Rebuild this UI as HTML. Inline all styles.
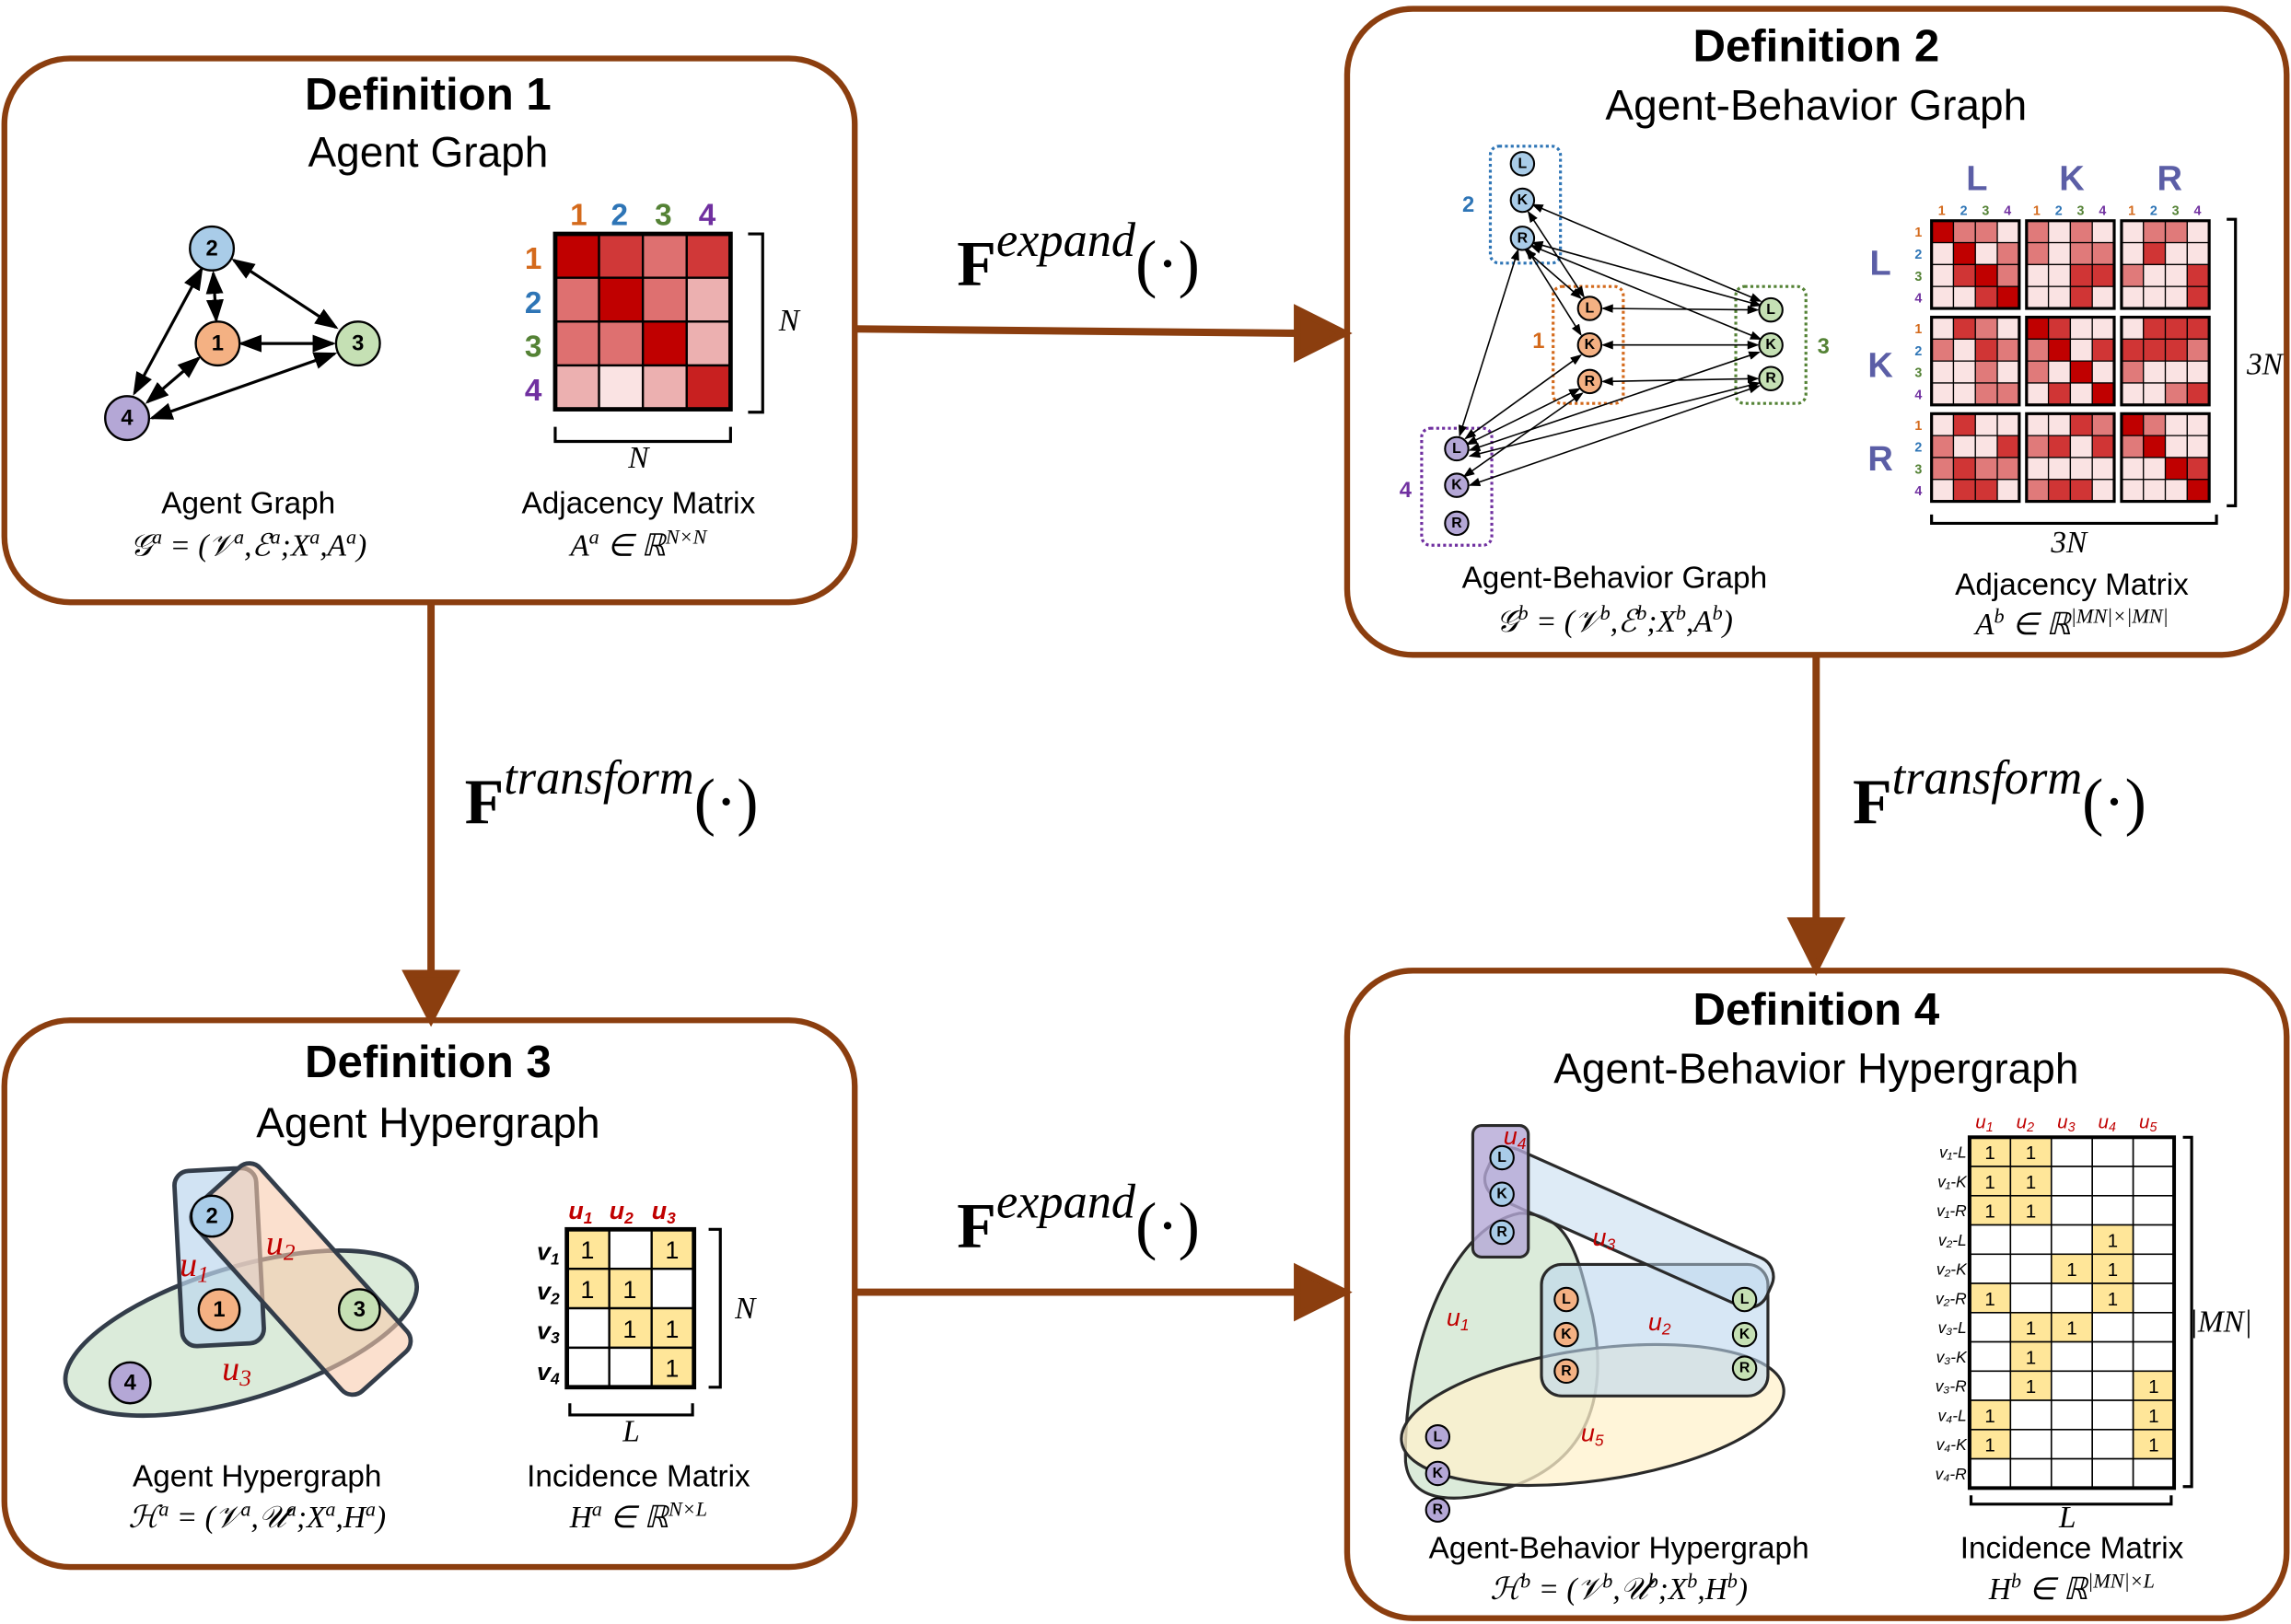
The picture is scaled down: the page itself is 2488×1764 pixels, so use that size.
<!DOCTYPE html>
<html><head><meta charset="utf-8"><style>
html,body{margin:0;padding:0;background:#fff}
svg{display:block}
text{font-family:"Liberation Sans","DejaVu Sans",sans-serif}
.t1{font-size:31px;font-weight:bold;text-anchor:middle}
.t2{font-size:29px;text-anchor:middle}
.cap{font-size:21px;text-anchor:middle}
.fm{font-family:"Liberation Serif",serif;font-style:italic;font-size:21px;text-anchor:middle}
.nd{font-size:15px;font-weight:bold;text-anchor:middle;dominant-baseline:central}
.sn{font-size:10px;font-weight:bold;text-anchor:middle;dominant-baseline:central}
.F{font-family:"Liberation Serif",serif;font-weight:bold;font-size:44px}
.Fs{font-family:"Liberation Serif",serif;font-style:italic;font-size:33px;font-weight:normal}
.red{fill:#c00000;font-family:"Liberation Serif",serif;font-style:italic}
</style></head><body>
<svg width="2488" height="1764" viewBox="0 0 1568 1111" preserveAspectRatio="none" xmlns="http://www.w3.org/2000/svg">
<defs>
<marker id="ab" markerWidth="10" markerHeight="10" refX="5" refY="5" orient="auto"><path d="M0,0 L10,5 L0,10 Z" fill="#8B3E0F"/></marker>
<marker id="sa" markerWidth="8" markerHeight="8" refX="7" refY="4" orient="auto-start-reverse"><path d="M0,1 L8,4 L0,7 Z" fill="#000"/></marker>
</defs>
<g fill="none" stroke="#8B3E0F" stroke-width="4">
<rect x="3" y="40" width="582" height="372" rx="45"/>
<rect x="922" y="6" width="643" height="442" rx="45"/>
<rect x="3" y="698" width="582" height="374" rx="45"/>
<rect x="922" y="664" width="643" height="443" rx="45"/>
</g>
<g stroke="#8B3E0F" stroke-width="5" fill="#8B3E0F">
<line x1="585" y1="225" x2="890" y2="228"/><path d="M888,212 L920,228 L888,244Z"/>
<line x1="585" y1="884" x2="890" y2="884"/><path d="M888,868 L920,884 L888,900Z"/>
<line x1="295" y1="412" x2="295" y2="668"/><path d="M279,666 L295,697 L311,666Z"/>
<line x1="1243" y1="450" x2="1243" y2="632"/><path d="M1227,630 L1243,662 L1259,630Z"/>
</g>
<text x="655" y="195" class="F">F<tspan class="Fs" dy="-20">expand</tspan><tspan dy="20" font-weight="normal">(·)</tspan></text>
<text x="655" y="853" class="F">F<tspan class="Fs" dy="-20">expand</tspan><tspan dy="20" font-weight="normal">(·)</tspan></text>
<text x="318" y="563" class="F">F<tspan class="Fs" dy="-20">transform</tspan><tspan dy="20" font-weight="normal">(·)</tspan></text>
<text x="1268" y="563" class="F">F<tspan class="Fs" dy="-20">transform</tspan><tspan dy="20" font-weight="normal">(·)</tspan></text>

<!-- Def1 -->
<text x="293" y="75" class="t1">Definition 1</text>
<text x="293" y="114" class="t2">Agent Graph</text>
<g stroke="#000" stroke-width="2" marker-start="url(#sa)" marker-end="url(#sa)">
<line x1="146" y1="187" x2="148" y2="219"/><line x1="160" y1="178" x2="230" y2="224"/>
<line x1="165" y1="235" x2="228" y2="235"/><line x1="138" y1="184" x2="92" y2="269"/>
<line x1="136" y1="245" x2="101" y2="275"/><line x1="229" y1="242" x2="104" y2="286"/>
</g>
<g stroke="#000" stroke-width="1.5">
<circle cx="145" cy="170" r="15" fill="#a9cce8"/><circle cx="149" cy="235" r="15" fill="#f4b183"/>
<circle cx="245" cy="235" r="15" fill="#c5e0b4"/><circle cx="87" cy="286" r="15" fill="#b4a7d6"/>
</g>
<text x="145" y="170" class="nd">2</text><text x="149" y="235" class="nd">1</text><text x="245" y="235" class="nd">3</text><text x="87" y="286" class="nd">4</text>
<g font-size="21" font-weight="bold" text-anchor="middle">
<text x="396" y="154" fill="#d46a1c">1</text><text x="424" y="154" fill="#2e75b6">2</text><text x="454" y="154" fill="#548235">3</text><text x="484" y="154" fill="#7030a0">4</text>
<text x="365" y="184" fill="#d46a1c">1</text><text x="365" y="214" fill="#2e75b6">2</text><text x="365" y="244" fill="#548235">3</text><text x="365" y="274" fill="#7030a0">4</text>
</g>
<g stroke="#000" stroke-width="1.5">
<rect x="380" y="160" width="30" height="30" fill="#c00000"/><rect x="410" y="160" width="30" height="30" fill="#d03838"/><rect x="440" y="160" width="30" height="30" fill="#de7070"/><rect x="470" y="160" width="30" height="30" fill="#d03838"/>
<rect x="380" y="190" width="30" height="30" fill="#de7070"/><rect x="410" y="190" width="30" height="30" fill="#c00000"/><rect x="440" y="190" width="30" height="30" fill="#de7070"/><rect x="470" y="190" width="30" height="30" fill="#ecb0b0"/>
<rect x="380" y="220" width="30" height="30" fill="#de7070"/><rect x="410" y="220" width="30" height="30" fill="#de7070"/><rect x="440" y="220" width="30" height="30" fill="#c00000"/><rect x="470" y="220" width="30" height="30" fill="#ecb0b0"/>
<rect x="380" y="250" width="30" height="30" fill="#ecb0b0"/><rect x="410" y="250" width="30" height="30" fill="#fae3e3"/><rect x="440" y="250" width="30" height="30" fill="#ecb0b0"/><rect x="470" y="250" width="30" height="30" fill="#c82020"/>
<rect x="380" y="160" width="120" height="120" fill="none" stroke-width="3"/>
</g>
<path d="M512,160 H522 V282 H512 M380,292 V302 H500 V292" fill="none" stroke="#000" stroke-width="2"/>
<text x="540" y="226" class="fm" font-size="16">N</text><text x="437" y="320" class="fm" font-size="16">N</text>
<text x="170" y="351" class="cap">Agent Graph</text>
<text x="170" y="380" class="fm">𝒢<tspan font-size="14" dy="-8">a</tspan><tspan dy="8"> = (𝒱</tspan><tspan font-size="14" dy="-8">a</tspan><tspan dy="8">,ℰ</tspan><tspan font-size="14" dy="-8">a</tspan><tspan dy="8">;X</tspan><tspan font-size="14" dy="-8">a</tspan><tspan dy="8">,A</tspan><tspan font-size="14" dy="-8">a</tspan><tspan dy="8">)</tspan></text>
<text x="437" y="351" class="cap">Adjacency Matrix</text>
<text x="437" y="380" class="fm">A<tspan font-size="14" dy="-8">a</tspan><tspan dy="8"> ∈ ℝ</tspan><tspan font-size="14" dy="-8">N×N</tspan></text>

<!-- Def2 -->
<text x="1243" y="42" class="t1">Definition 2</text>
<text x="1243" y="82" class="t2">Agent-Behavior Graph</text>
<g fill="none" stroke-width="2" stroke-dasharray="2,2">
<rect x="1020" y="100" width="48" height="80" rx="6" stroke="#2e75b6"/>
<rect x="1063" y="196" width="48" height="80" rx="6" stroke="#d46a1c"/>
<rect x="1188" y="196" width="48" height="80" rx="6" stroke="#548235"/>
<rect x="973" y="293" width="48" height="80" rx="6" stroke="#7030a0"/>
</g>
<g font-size="15" font-weight="bold" text-anchor="middle">
<text x="1005" y="145" fill="#2e75b6">2</text><text x="1053" y="238" fill="#d46a1c">1</text><text x="1248" y="242" fill="#548235">3</text><text x="962" y="340" fill="#7030a0">4</text>
</g>
<g stroke="#000" stroke-width="1" marker-start="url(#sa)" marker-end="url(#sa)">
<line x1="1049" y1="140" x2="1205" y2="206"/><line x1="1049" y1="166" x2="1205" y2="209"/>
<line x1="1048" y1="168" x2="1205" y2="232"/><line x1="1046" y1="145" x2="1084" y2="203"/>
<line x1="1045" y1="170" x2="1082" y2="229"/><line x1="1044" y1="171" x2="1082" y2="204"/>
<line x1="1097" y1="211" x2="1203" y2="212"/><line x1="1097" y1="236" x2="1203" y2="236"/><line x1="1097" y1="261" x2="1203" y2="259"/>
<line x1="1039" y1="171" x2="999" y2="298"/><line x1="1082" y1="243" x2="1003" y2="300"/>
<line x1="1081" y1="266" x2="1004" y2="304"/><line x1="1204" y1="241" x2="1006" y2="308"/>
<line x1="1204" y1="262" x2="1006" y2="312"/><line x1="1083" y1="269" x2="1002" y2="326"/>
<line x1="1204" y1="264" x2="1006" y2="332"/>
</g>
<g stroke="#000" stroke-width="1.3">
<circle cx="1042" cy="112" r="8" fill="#a9cce8"/><circle cx="1042" cy="137" r="8" fill="#a9cce8"/><circle cx="1042" cy="163" r="8" fill="#a9cce8"/>
<circle cx="1088" cy="211" r="8" fill="#f4b183"/><circle cx="1088" cy="236" r="8" fill="#f4b183"/><circle cx="1088" cy="261" r="8" fill="#f4b183"/>
<circle cx="1212" cy="212" r="8" fill="#c5e0b4"/><circle cx="1212" cy="236" r="8" fill="#c5e0b4"/><circle cx="1212" cy="259" r="8" fill="#c5e0b4"/>
<circle cx="997" cy="307" r="8" fill="#b4a7d6"/><circle cx="997" cy="332" r="8" fill="#b4a7d6"/><circle cx="997" cy="358" r="8" fill="#b4a7d6"/>
</g>
<g>
<text x="1042" y="112" class="sn">L</text><text x="1042" y="137" class="sn">K</text><text x="1042" y="163" class="sn">R</text>
<text x="1088" y="211" class="sn">L</text><text x="1088" y="236" class="sn">K</text><text x="1088" y="261" class="sn">R</text>
<text x="1212" y="212" class="sn">L</text><text x="1212" y="236" class="sn">K</text><text x="1212" y="259" class="sn">R</text>
<text x="997" y="307" class="sn">L</text><text x="997" y="332" class="sn">K</text><text x="997" y="358" class="sn">R</text>
</g>
<g font-size="24" font-weight="bold" fill="#5b5ea6" text-anchor="middle">
<text x="1353" y="130">L</text><text x="1418" y="130">K</text><text x="1485" y="130">R</text>
<text x="1287" y="188">L</text><text x="1287" y="258">K</text><text x="1287" y="322">R</text>
</g>
<g id="m2"></g>
<path d="M1524,150 H1530 V346 H1524 M1322,352 V358 H1517 V352" fill="none" stroke="#000" stroke-width="2"/>
<text x="1550" y="256" class="fm" font-size="12">3N</text><text x="1416" y="378" class="fm" font-size="12">3N</text>
<text x="1105" y="402" class="cap">Agent-Behavior Graph</text>
<text x="1105" y="432" class="fm">𝒢<tspan font-size="14" dy="-8">b</tspan><tspan dy="8"> = (𝒱</tspan><tspan font-size="14" dy="-8">b</tspan><tspan dy="8">,ℰ</tspan><tspan font-size="14" dy="-8">b</tspan><tspan dy="8">;X</tspan><tspan font-size="14" dy="-8">b</tspan><tspan dy="8">,A</tspan><tspan font-size="14" dy="-8">b</tspan><tspan dy="8">)</tspan></text>
<text x="1418" y="407" class="cap">Adjacency Matrix</text>
<text x="1418" y="434" class="fm">A<tspan font-size="14" dy="-8">b</tspan><tspan dy="8"> ∈ ℝ</tspan><tspan font-size="14" dy="-8">|MN|×|MN|</tspan></text>

<!-- Def3 -->
<text x="293" y="737" class="t1">Definition 3</text>
<text x="293" y="778" class="t2">Agent Hypergraph</text>
<g stroke="#333d4a" stroke-width="3">
<ellipse cx="165" cy="912" rx="125" ry="45" transform="rotate(-17 165 912)" fill="#d5e8d4" fill-opacity="0.85"/>
<rect x="122" y="800" width="56" height="120" rx="10" transform="rotate(-3 150 860)" fill="#bdd7ee" fill-opacity="0.7"/>
<rect x="176" y="790" width="60" height="170" rx="10" transform="rotate(-42 206 875)" fill="#f8cbad" fill-opacity="0.6"/>
</g>
<g stroke="#000" stroke-width="1.5">
<circle cx="145" cy="832" r="14" fill="#a9cce8"/><circle cx="150" cy="896" r="14" fill="#f4b183"/>
<circle cx="246" cy="896" r="14" fill="#c5e0b4"/><circle cx="89" cy="946" r="14" fill="#b4a7d6"/>
</g>
<text x="145" y="832" class="nd">2</text><text x="150" y="896" class="nd">1</text><text x="246" y="896" class="nd">3</text><text x="89" y="946" class="nd">4</text>
<text x="123" y="873" class="red" font-size="24">u<tspan font-size="16" dy="4">1</tspan></text>
<text x="182" y="858" class="red" font-size="24">u<tspan font-size="16" dy="4">2</tspan></text>
<text x="152" y="944" class="red" font-size="24">u<tspan font-size="16" dy="4">3</tspan></text>
<g font-size="17" font-weight="bold" class="red" font-style="italic">
<text x="389" y="834">u<tspan font-size="11" dy="3">1</tspan></text><text x="417" y="834">u<tspan font-size="11" dy="3">2</tspan></text><text x="446" y="834">u<tspan font-size="11" dy="3">3</tspan></text>
</g>
<g font-family="Liberation Serif,serif" font-style="italic" font-weight="bold" font-size="17" text-anchor="end">
<text x="383" y="862">v<tspan font-size="11" dy="3">1</tspan></text><text x="383" y="889">v<tspan font-size="11" dy="3">2</tspan></text><text x="383" y="916">v<tspan font-size="11" dy="3">3</tspan></text><text x="383" y="944">v<tspan font-size="11" dy="3">4</tspan></text>
</g>
<g stroke="#000" stroke-width="1.5" fill="#fff">
<rect x="388" y="841" width="29" height="27" fill="#ffe699"/><rect x="417" y="841" width="29" height="27"/><rect x="446" y="841" width="29" height="27" fill="#ffe699"/>
<rect x="388" y="868" width="29" height="27" fill="#ffe699"/><rect x="417" y="868" width="29" height="27" fill="#ffe699"/><rect x="446" y="868" width="29" height="27"/>
<rect x="388" y="895" width="29" height="27"/><rect x="417" y="895" width="29" height="27" fill="#ffe699"/><rect x="446" y="895" width="29" height="27" fill="#ffe699"/>
<rect x="388" y="922" width="29" height="27"/><rect x="417" y="922" width="29" height="27"/><rect x="446" y="922" width="29" height="27" fill="#ffe699"/>
<rect x="388" y="841" width="87" height="108" fill="none" stroke-width="3"/>
</g>
<g font-size="17" text-anchor="middle">
<text x="402" y="861">1</text><text x="460" y="861">1</text><text x="402" y="888">1</text><text x="431" y="888">1</text>
<text x="431" y="915">1</text><text x="460" y="915">1</text><text x="460" y="942">1</text>
</g>
<path d="M485,841 H493 V949 H485 M390,960 V968 H474 V960" fill="none" stroke="#000" stroke-width="2"/>
<text x="510" y="902" class="fm" font-size="15">N</text><text x="432" y="986" class="fm" font-size="15">L</text>
<text x="176" y="1017" class="cap">Agent Hypergraph</text>
<text x="176" y="1045" class="fm">ℋ<tspan font-size="14" dy="-8">a</tspan><tspan dy="8"> = (𝒱</tspan><tspan font-size="14" dy="-8">a</tspan><tspan dy="8">,𝒰</tspan><tspan font-size="14" dy="-8">a</tspan><tspan dy="8">;X</tspan><tspan font-size="14" dy="-8">a</tspan><tspan dy="8">,H</tspan><tspan font-size="14" dy="-8">a</tspan><tspan dy="8">)</tspan></text>
<text x="437" y="1017" class="cap">Incidence Matrix</text>
<text x="437" y="1045" class="fm">H<tspan font-size="14" dy="-8">a</tspan><tspan dy="8"> ∈ ℝ</tspan><tspan font-size="14" dy="-8">N×L</tspan></text>

<!-- Def4 -->
<text x="1243" y="701" class="t1">Definition 4</text>
<text x="1243" y="741" class="t2">Agent-Behavior Hypergraph</text>
<g stroke="#2a2a2a" stroke-width="2">
<path d="M1040,830 C990,840 960,930 962,1000 C965,1030 1000,1030 1040,1015 C1090,995 1100,950 1090,900 C1080,860 1075,830 1040,830Z" fill="#d5e8d4" fill-opacity="0.85"/>
<ellipse cx="1090" cy="968" rx="132" ry="45" transform="rotate(-8 1090 968)" fill="#fff2cc" fill-opacity="0.75"/>
<rect x="1055" y="865" width="155" height="90" rx="14" fill="#bdd7ee" fill-opacity="0.6"/>
<rect x="1010" y="822" width="210" height="36" rx="14" transform="rotate(24 1115 840)" fill="#bdd7ee" fill-opacity="0.5"/>
<rect x="1008" y="770" width="38" height="90" rx="6" fill="#b4a7d6" fill-opacity="0.8"/>
</g>
<g stroke="#000" stroke-width="1.3">
<circle cx="1028" cy="792" r="8" fill="#a9cce8"/><circle cx="1028" cy="817" r="8" fill="#a9cce8"/><circle cx="1028" cy="843" r="8" fill="#a9cce8"/>
<circle cx="1072" cy="889" r="8" fill="#f4b183"/><circle cx="1072" cy="913" r="8" fill="#f4b183"/><circle cx="1072" cy="938" r="8" fill="#f4b183"/>
<circle cx="1194" cy="889" r="8" fill="#c5e0b4"/><circle cx="1194" cy="913" r="8" fill="#c5e0b4"/><circle cx="1194" cy="936" r="8" fill="#c5e0b4"/>
<circle cx="984" cy="983" r="8" fill="#b4a7d6"/><circle cx="984" cy="1008" r="8" fill="#b4a7d6"/><circle cx="984" cy="1033" r="8" fill="#b4a7d6"/>
</g>
<g>
<text x="1028" y="792" class="sn">L</text><text x="1028" y="817" class="sn">K</text><text x="1028" y="843" class="sn">R</text>
<text x="1072" y="889" class="sn">L</text><text x="1072" y="913" class="sn">K</text><text x="1072" y="938" class="sn">R</text>
<text x="1194" y="889" class="sn">L</text><text x="1194" y="913" class="sn">K</text><text x="1194" y="936" class="sn">R</text>
<text x="984" y="983" class="sn">L</text><text x="984" y="1008" class="sn">K</text><text x="984" y="1033" class="sn">R</text>
</g>
<g class="red" font-size="17">
<text x="1029" y="783">u<tspan font-size="11" dy="3">4</tspan></text><text x="1090" y="852">u<tspan font-size="11" dy="3">3</tspan></text>
<text x="990" y="907">u<tspan font-size="11" dy="3">1</tspan></text><text x="1128" y="910">u<tspan font-size="11" dy="3">2</tspan></text>
<text x="1082" y="986">u<tspan font-size="11" dy="3">5</tspan></text>
</g>
<g class="red" font-size="13">
<text x="1352" y="772">u<tspan font-size="9" dy="2">1</tspan></text><text x="1380" y="772">u<tspan font-size="9" dy="2">2</tspan></text><text x="1408" y="772">u<tspan font-size="9" dy="2">3</tspan></text><text x="1436" y="772">u<tspan font-size="9" dy="2">4</tspan></text><text x="1464" y="772">u<tspan font-size="9" dy="2">5</tspan></text>
</g>
<g font-family="Liberation Serif,serif" font-style="italic" font-size="11" text-anchor="end">
<text x="1346" y="792">v₁-L</text><text x="1346" y="812">v₁-K</text><text x="1346" y="832">v₁-R</text>
<text x="1346" y="852">v₂-L</text><text x="1346" y="872">v₂-K</text><text x="1346" y="892">v₂-R</text>
<text x="1346" y="912">v₃-L</text><text x="1346" y="932">v₃-K</text><text x="1346" y="952">v₃-R</text>
<text x="1346" y="972">v₄-L</text><text x="1346" y="992">v₄-K</text><text x="1346" y="1012">v₄-R</text>
</g>
<g id="m4"></g>
<path d="M1494,778 H1500 V1017 H1494 M1349,1023 V1029 H1486 V1023" fill="none" stroke="#000" stroke-width="2"/>
<text x="1520" y="911" class="fm" font-size="12">|MN|</text><text x="1415" y="1045" class="fm" font-size="12">L</text>
<text x="1108" y="1066" class="cap">Agent-Behavior Hypergraph</text>
<text x="1108" y="1094" class="fm">ℋ<tspan font-size="14" dy="-8">b</tspan><tspan dy="8"> = (𝒱</tspan><tspan font-size="14" dy="-8">b</tspan><tspan dy="8">,𝒰</tspan><tspan font-size="14" dy="-8">b</tspan><tspan dy="8">;X</tspan><tspan font-size="14" dy="-8">b</tspan><tspan dy="8">,H</tspan><tspan font-size="14" dy="-8">b</tspan><tspan dy="8">)</tspan></text>
<text x="1418" y="1066" class="cap">Incidence Matrix</text>
<text x="1418" y="1094" class="fm">H<tspan font-size="14" dy="-8">b</tspan><tspan dy="8"> ∈ ℝ</tspan><tspan font-size="14" dy="-8">|MN|×L</tspan></text>
</svg>
<script>
(function(){
var NS="http://www.w3.org/2000/svg";
function el(p,t,a){var e=document.createElementNS(NS,t);for(var k in a)e.setAttribute(k,a[k]);p.appendChild(e);return e;}
var g=document.getElementById("m2");
var cols=["#d46a1c","#2e75b6","#548235","#7030a0"];
var sh=["#fae3e3","#e07a7a","#d03535","#c00000"];
var bx=[1322,1387,1452],by=[151,217,283],cs=15;
var seed=7;function rnd(){seed=(seed*9301+49297)%233280;return seed/233280;}
for(var bi=0;bi<3;bi++)for(var bj=0;bj<3;bj++){
 for(var r=0;r<4;r++)for(var c=0;c<4;c++){
  var v;if(bi==bj&&r==c)v=3;else{var x=rnd();v=x<0.45?0:(x<0.7?1:2);}
  el(g,"rect",{x:bx[bj]+c*cs,y:by[bi]+r*cs,width:cs,height:cs,fill:sh[v],stroke:"#000","stroke-width":0.8});
 }
 el(g,"rect",{x:bx[bj],y:by[bi],width:cs*4,height:cs*4,fill:"none",stroke:"#000","stroke-width":2});
}
for(var b=0;b<3;b++)for(var i=0;i<4;i++){
 var t=el(g,"text",{x:bx[b]+i*cs+7,y:147,"font-size":9,"font-weight":"bold",fill:cols[i],"text-anchor":"middle"});t.textContent=i+1;
 var t2=el(g,"text",{x:1313,y:by[b]+i*cs+11,"font-size":9,"font-weight":"bold",fill:cols[i],"text-anchor":"middle"});t2.textContent=i+1;
}
var g4=document.getElementById("m4");
var ones=[[1,2],[1,2],[1,2],[4],[3,4],[1,4],[2,3],[2],[2,5],[1,5],[1,5],[]];
for(var r=0;r<12;r++)for(var c=1;c<=5;c++){
 var on=ones[r].indexOf(c)>=0;
 el(g4,"rect",{x:1348+(c-1)*28,y:778+r*20,width:28,height:20,fill:on?"#ffe699":"#fff",stroke:"#000","stroke-width":1});
 if(on){var t=el(g4,"text",{x:1348+(c-1)*28+14,y:778+r*20+15,"font-size":13,"text-anchor":"middle"});t.textContent="1";}
}
el(g4,"rect",{x:1348,y:778,width:140,height:240,fill:"none",stroke:"#000","stroke-width":2.5});
})();
</script>
</body></html>
